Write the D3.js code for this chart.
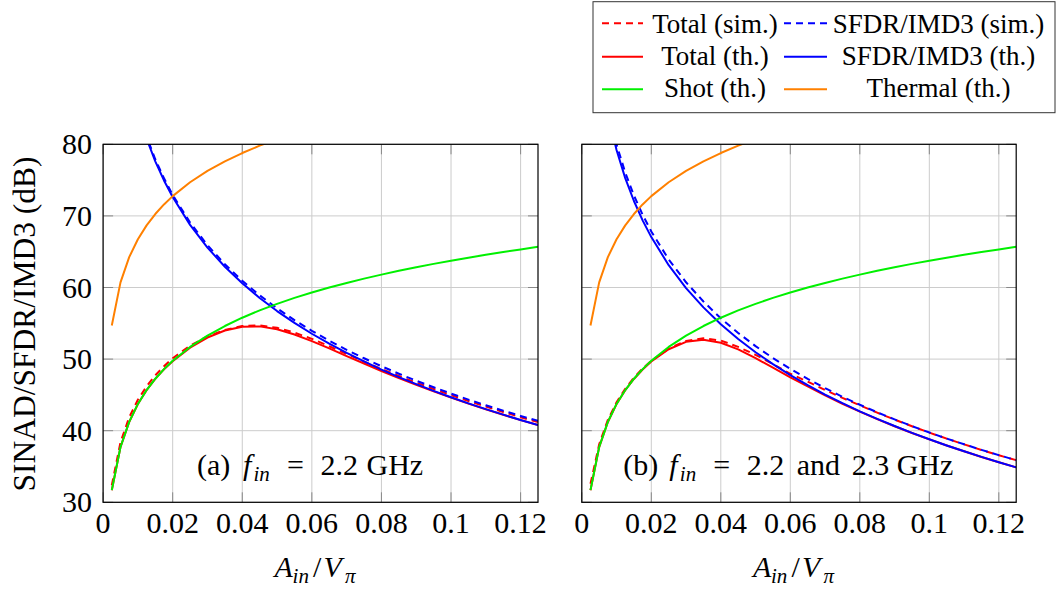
<!DOCTYPE html>
<html>
<head>
<meta charset="utf-8">
<script src="https://cdn.jsdelivr.net/npm/d3@7"></script>
<style>
  html, body { margin: 0; padding: 0; background: #fff; }
</style>
</head>
<body>
<svg id="chart" width="1056" height="591"></svg>
<script>
// ---------------- DATA ----------------
const xValues = [0.0025, 0.005, 0.0075, 0.01, 0.0125, 0.015, 0.0175, 0.02, 0.025, 0.03,
  0.035, 0.04, 0.045, 0.05, 0.055, 0.06, 0.065, 0.07, 0.075, 0.08,
  0.085, 0.09, 0.095, 0.1, 0.105, 0.11, 0.115, 0.12, 0.125];

const shotTh = [31.70, 37.72, 41.24, 43.74, 45.68, 47.26, 48.60, 49.76, 51.70, 53.28,
  54.62, 55.78, 56.81, 57.72, 58.55, 59.30, 60.00, 60.64, 61.24, 61.80,
  62.33, 62.83, 63.30, 63.74, 64.17, 64.57, 64.96, 65.32, 65.68];

const thermalTh = [54.70, 60.72, 64.24, 66.74, 68.68, 70.26, 71.60, 72.76, 74.70, 76.28,
  77.62, 78.78, 79.81, 80.72, 81.55, null, null, null, null, null,
  null, null, null, null, null, null, null, null, null];

// panel (a): f_in = 2.2 GHz
const sfdrThA = [null, null, 89.67, 84.67, 80.79, 77.62, 74.95, 72.63, 68.75, 65.58,
  62.90, 60.59, 58.54, 56.71, 55.05, 53.54, 52.15, 50.86, 49.67, 48.54,
  47.49, 46.50, 45.56, 44.67, 43.82, 43.01, 42.24, 41.50, 40.79];
const sfdrSimA = [null, null, 89.94, 84.95, 81.07, 77.91, 75.25, 72.93, 69.07, 65.91,
  63.24, 60.94, 58.91, 57.09, 55.44, 53.95, 52.57, 51.29, 50.12, 49.00,
  47.96, 46.98, 46.06, 45.18, 44.34, 43.55, 42.79, 42.06, 41.37];
const totalThA = [31.68, 37.70, 41.22, 43.72, 45.66, 47.24, 48.57, 49.71, 51.59, 53.01,
  54.00, 54.52, 54.57, 54.17, 53.44, 52.51, 51.49, 50.42, 49.38, 48.34,
  47.35, 46.40, 45.49, 44.62, 43.78, 42.98, 42.22, 41.48, 40.78];
const totalSimA = [32.38, 38.40, 41.87, 44.32, 46.20, 47.73, 49.01, 50.11, 51.89, 53.17,
  54.08, 54.61, 54.71, 54.37, 53.70, 52.83, 51.79, 50.72, 49.65, 48.63,
  47.65, 46.72, 45.83, 44.97, 44.15, 43.37, 42.61, 41.89, 41.20];

// panel (b): f_in = 2.2 and 2.3 GHz
const sfdrThB = [null, 91.36, 84.24, 79.20, 75.28, 72.08, 69.38, 67.04, 63.12, 59.92,
  57.22, 54.87, 52.81, 50.96, 49.29, 47.76, 46.36, 45.05, 43.84, 42.71,
  41.65, 40.65, 39.70, 38.80, 37.94, 37.13, 36.34, 35.60, 34.88];
const sfdrSimB = [null, 92.12, 85.01, 79.97, 76.06, 72.86, 70.17, 67.83, 63.92, 60.73,
  58.04, 55.70, 53.65, 51.81, 50.15, 48.63, 47.24, 45.94, 44.74, 43.62,
  42.57, 41.58, 40.64, 39.75, 38.90, 38.10, 37.32, 36.59, 35.88];
const totalThB = [31.68, 37.70, 41.22, 43.72, 45.65, 47.22, 48.54, 49.66, 51.38, 52.41,
  52.70, 52.28, 51.35, 50.13, 48.80, 47.46, 46.18, 44.93, 43.76, 42.66,
  41.61, 40.62, 39.68, 38.79, 37.93, 37.12, 36.33, 35.60, 34.88];
const totalSimB = [32.58, 38.10, 41.52, 43.97, 45.85, 47.42, 48.69, 49.77, 51.47, 52.54,
  52.90, 52.60, 51.70, 50.60, 49.30, 47.95, 46.85, 45.70, 44.58, 43.55,
  42.52, 41.55, 40.62, 39.73, 38.89, 38.09, 37.31, 36.58, 35.88];

const xTicks = [0, 0.02, 0.04, 0.06, 0.08, 0.1, 0.12];
const xTickLabels = ["0", "0.02", "0.04", "0.06", "0.08", "0.1", "0.12"];
const yTicks = [30, 40, 50, 60, 70, 80];
const yTickLabels = ["30", "40", "50", "60", "70", "80"];

const legendLabels = ["Total (sim.)", "SFDR/IMD3 (sim.)", "Total (th.)", "SFDR/IMD3 (th.)", "Shot (th.)", "Thermal (th.)"];
const seriesColors = ["#ff0000", "#0000ff", "#ff0000", "#0000ff", "#00f000", "#ff8000"];
const seriesDashed = [true, true, false, false, false, false];

// ---------------- DRAWING ----------------
const FONT = "'Liberation Serif', serif";
const svg = d3.select("#chart");
svg.append("rect").attr("width", 1056).attr("height", 591).attr("fill", "#fff");

const plotTop = 144.3, plotBottom = 502.3;
const panels = [
  { id: "a", left: 103.1, right: 538.0, showY: true,
    series: [totalSimA, sfdrSimA, totalThA, sfdrThA, shotTh, thermalTh],
    note: [{t: "(a)", dx: 0}, {t: "f", it: true, dx: 46}, {t: "in", it: true, sub: true, dx: 56.5},
           {t: "=", dx: 90}, {t: "2.2", dx: 123.5}, {t: "GHz", dx: 169.5}],
    noteX: 197 },
  { id: "b", left: 581.8, right: 1016.2, showY: false,
    series: [totalSimB, sfdrSimB, totalThB, sfdrThB, shotTh, thermalTh],
    note: [{t: "(b)", dx: 0}, {t: "f", it: true, dx: 46}, {t: "in", it: true, sub: true, dx: 56.5},
           {t: "=", dx: 90}, {t: "2.2", dx: 123.5}, {t: "and", dx: 173.4}, {t: "2.3", dx: 228.4}, {t: "GHz", dx: 273.4}],
    noteX: 623.3 }
];

// places each piece of a formula at its own x offset
function placedText(g, parts, x0, y0, fs, subShift) {
  parts.forEach(p => {
    g.append("text")
      .attr("x", x0 + p.dx).attr("y", y0 + (p.sub ? subShift : 0))
      .style("font-family", FONT)
      .style("font-size", (p.sub ? fs * 0.7 : fs) + "px")
      .style("font-style", p.it ? "italic" : "normal")
      .attr("fill", "#000")
      .text(p.t);
  });
}

panels.forEach(P => {
  const x = d3.scaleLinear().domain([0, 0.125]).range([P.left, P.right]);
  const y = d3.scaleLinear().domain([30, 80]).range([plotBottom, plotTop]);
  const g = svg.append("g");

  // grid
  g.append("g").selectAll("line").data(xTicks).join("line")
    .attr("x1", d => x(d)).attr("x2", d => x(d))
    .attr("y1", plotTop).attr("y2", plotBottom)
    .attr("stroke", "#cccccc").attr("stroke-width", 1);
  g.append("g").selectAll("line").data(yTicks).join("line")
    .attr("x1", P.left).attr("x2", P.right)
    .attr("y1", d => y(d)).attr("y2", d => y(d))
    .attr("stroke", "#cccccc").attr("stroke-width", 1);

  // inner tick marks (all four sides)
  const tl = 10;
  const tg = g.append("g").attr("stroke", "#888").attr("stroke-width", 1);
  xTicks.forEach(d => {
    tg.append("line").attr("x1", x(d)).attr("x2", x(d)).attr("y1", plotBottom).attr("y2", plotBottom - tl);
    tg.append("line").attr("x1", x(d)).attr("x2", x(d)).attr("y1", plotTop).attr("y2", plotTop + tl);
  });
  yTicks.forEach(d => {
    tg.append("line").attr("x1", P.left).attr("x2", P.left + tl).attr("y1", y(d)).attr("y2", y(d));
    tg.append("line").attr("x1", P.right).attr("x2", P.right - tl).attr("y1", y(d)).attr("y2", y(d));
  });

  // clip
  svg.append("clipPath").attr("id", "clip" + P.id).append("rect")
    .attr("x", P.left).attr("y", plotTop).attr("width", P.right - P.left).attr("height", plotBottom - plotTop);

  const line = d3.line().defined(d => d[1] !== null).x(d => x(d[0])).y(d => y(d[1]));
  const cg = g.append("g").attr("clip-path", "url(#clip" + P.id + ")");
  P.series.forEach((vals, i) => {
    const pts = xValues.map((xv, j) => [xv, vals[j]]);
    cg.append("path").datum(pts).attr("d", line)
      .attr("fill", "none").attr("stroke", seriesColors[i])
      .attr("stroke-width", 2)
      .attr("stroke-linejoin", "round")
      .attr("stroke-dasharray", seriesDashed[i] ? "7,5" : null);
  });

  // box
  g.append("rect").attr("x", P.left).attr("y", plotTop)
    .attr("width", P.right - P.left).attr("height", plotBottom - plotTop)
    .attr("fill", "none").attr("stroke", "#000").attr("stroke-width", 1.2);

  // x tick labels
  g.append("g").selectAll("text").data(xTicks).join("text")
    .attr("x", d => x(d)).attr("y", 533)
    .attr("text-anchor", "middle").style("font-family", FONT).style("font-size", "30px").attr("fill", "#000")
    .text((d, i) => xTickLabels[i]);

  if (P.showY) {
    g.append("g").selectAll("text").data(yTicks).join("text")
      .attr("x", 92).attr("y", d => y(d) + 10)
      .attr("text-anchor", "end").style("font-family", FONT).style("font-size", "30px").attr("fill", "#000")
      .text((d, i) => yTickLabels[i]);
  }

  // x axis label A_in / V_pi
  const cx = (P.left + P.right) / 2;
  placedText(g, [{t: "A", it: true, dx: -46}, {t: "in", it: true, sub: true, dx: -28},
                 {t: "/", dx: -7.5}, {t: "V", it: true, dx: 3}, {t: "π", it: true, sub: true, dx: 24.5}],
             cx, 577, 30, 5.6);

  // annotation
  placedText(g, P.note, P.noteX, 475, 30, 5.5);
});

// y axis label
svg.append("text").attr("transform", "translate(35,324) rotate(-90)")
  .attr("text-anchor", "middle").style("font-family", FONT).style("font-size", "31.5px").attr("fill", "#000")
  .text("SINAD/SFDR/IMD3 (dB)");

// legend
const lg = svg.append("g");
lg.append("rect").attr("x", 593).attr("y", 1.7).attr("width", 462).attr("height", 111)
  .attr("fill", "#fff").attr("stroke", "#333").attr("stroke-width", 1);
const colLine = [[602, 643], [784, 827]];
const colText = [715, 938.5];
const rowLine = [23.3, 56.7, 89.3];
const rowText = [33.3, 65.2, 97.3];
legendLabels.forEach((lab, i) => {
  const r = Math.floor(i / 2), c = i % 2;
  lg.append("line").attr("x1", colLine[c][0]).attr("x2", colLine[c][1])
    .attr("y1", rowLine[r]).attr("y2", rowLine[r])
    .attr("stroke", seriesColors[i]).attr("stroke-width", 2)
    .attr("stroke-dasharray", seriesDashed[i] ? "7,5" : null);
  lg.append("text").attr("x", colText[c]).attr("y", rowText[r])
    .attr("text-anchor", "middle").style("font-family", FONT).style("font-size", "27px").attr("fill", "#000")
    .text(lab);
});
</script>
</body>
</html>
